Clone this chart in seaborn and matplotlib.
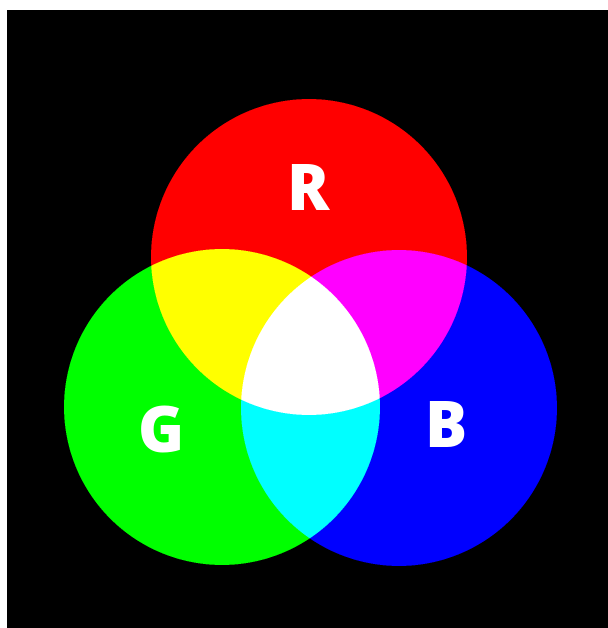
import numpy as np
import seaborn as sns
import matplotlib.pyplot as plt

# three light circles (pixel coordinates of the picture)
labels = ["R", "G", "B"]
center_x = [309, 222, 399]
center_y = [257, 407, 408]
radius = [158, 158, 158]
label_x = [307, 161, 445]
label_y = [193, 436, 430]

sns.set_theme(style="dark")
plt.rcParams['font.family'] = ['Open Sans', 'DejaVu Sans']

fig = plt.figure(figsize=(6.08, 6.28), dpi=100)
fig.patch.set_facecolor("white")
ax = fig.add_axes([7 / 608, 0, 601 / 608, 618 / 628])
ax.set_facecolor("black")

# additive mixing: each circle lights one colour channel
x0, x1, y0, y1 = 7, 608, 10, 628
ss = 3
xs = np.arange(x0, x1, 1 / ss) + 0.5 / ss
ys = np.arange(y0, y1, 1 / ss) + 0.5 / ss
gx, gy = np.meshgrid(xs, ys)
rgb = np.zeros(gx.shape + (3,))
for ch, (cx, cy, r) in enumerate(zip(center_x, center_y, radius)):
    rgb[..., ch] = ((gx - cx) ** 2 + (gy - cy) ** 2 <= r ** 2).astype(float)
h, w = rgb.shape[0] // ss, rgb.shape[1] // ss
rgb = rgb[:h * ss, :w * ss].reshape(h, ss, w, ss, 3).mean(axis=(1, 3))

ax.imshow(rgb, extent=(x0, x1, y1, y0), interpolation="bilinear")
ax.set_xlim(x0, x1)
ax.set_ylim(y1, y0)

for lab, lx, ly in zip(labels, label_x, label_y):
    ax.text(lx, ly, lab, color="white", fontsize=45, fontweight="heavy",
            ha="center", va="center")

ax.set_xticks([])
ax.set_yticks([])
for s in ax.spines.values():
    s.set_visible(False)

fig.savefig("out.png", dpi=100, facecolor=fig.get_facecolor())
